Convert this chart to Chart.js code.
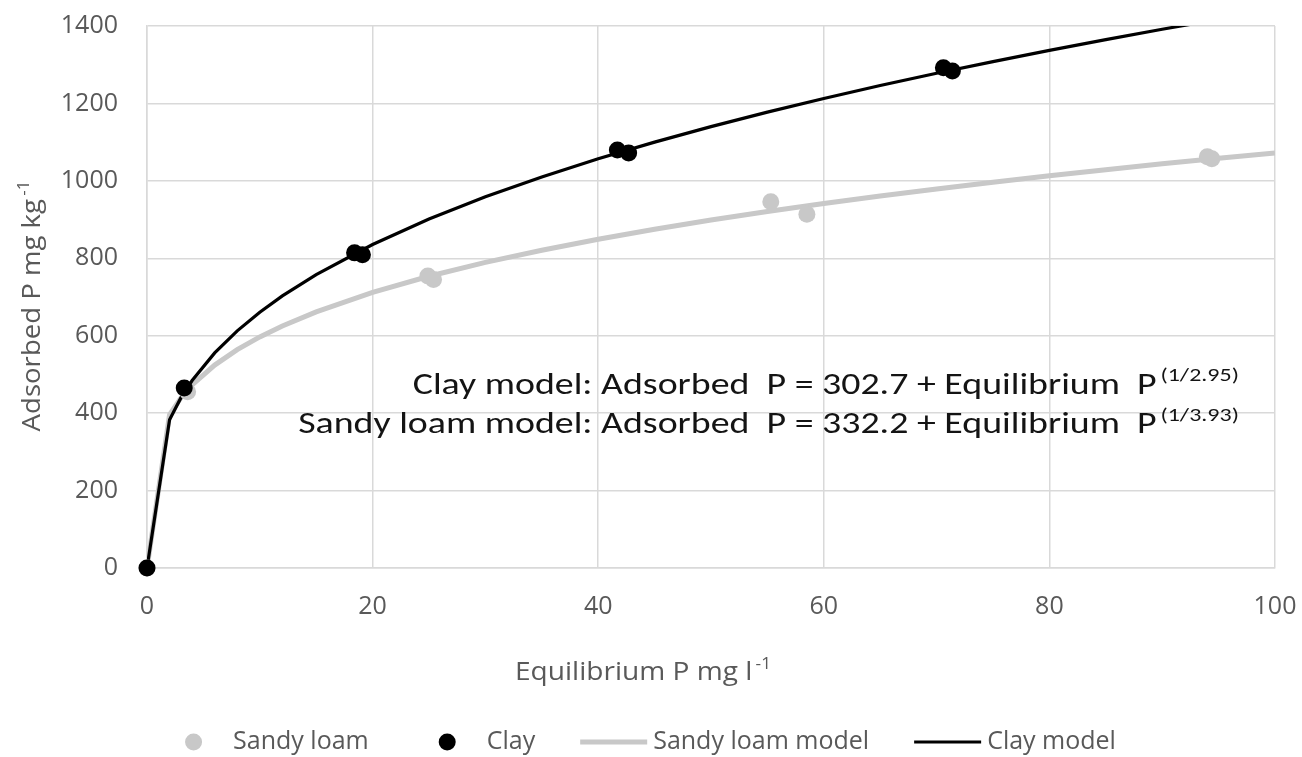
<!DOCTYPE html>
<html><head><meta charset="utf-8">
<script src="https://cdn.jsdelivr.net/npm/chart.js@4.4.1/dist/chart.umd.min.js"></script>
<style>html,body{margin:0;padding:0;background:#fff}#wrap{width:1302px;height:757px}</style>
</head><body><div id="wrap"><canvas id="c" width="1302" height="757"></canvas></div>
<script>
// ---- data ----
const xTickValues = [0, 20, 40, 60, 80, 100];
const yTickValues = [0, 200, 400, 600, 800, 1000, 1200, 1400];

const sandyX = [0, 3.6, 24.9, 25.4, 55.3, 58.5, 94.0, 94.4];
const sandyY = [0, 455, 754, 745, 946, 914, 1062, 1057];

const clayX = [0, 3.3, 18.4, 19.1, 41.7, 42.7, 70.6, 71.4];
const clayY = [0, 465, 814, 809, 1080, 1072, 1292, 1284];

const modelX = [0, 2, 3, 4, 6, 8, 10, 12, 15, 20, 25, 30, 35, 40, 45, 50, 55, 60, 65, 70, 75, 80, 85, 90, 95, 100];
const clayModelY = [0, 382.9, 439.3, 484.3, 555.6, 612.6, 660.6, 702.8, 758.0, 835.7, 901.4, 958.8, 1010.2, 1057.0, 1100.0, 1140.1, 1177.5, 1212.7, 1246.2, 1277.8, 1308.1, 1337.0, 1364.8, 1391.5, 1417.2, 1442.1];
const sandyModelY = [0, 396.3, 439.3, 472.7, 524.1, 563.9, 596.9, 625.2, 661.7, 712.0, 753.6, 789.3, 820.9, 849.3, 875.1, 898.9, 920.9, 941.6, 961.0, 979.2, 996.6, 1013.1, 1028.9, 1043.9, 1058.4, 1072.3];

const seriesNames = ['Sandy loam', 'Clay', 'Sandy loam model', 'Clay model'];
const xTitle = ['Equilibrium P mg l', '-1'];
const yTitle = ['Adsorbed P mg kg', '-1'];
const annotations = [
  ['Clay model: Adsorbed  P = 302.7 + Equilibrium  P', '(1/2.95)'],
  ['Sandy loam model: Adsorbed  P = 332.2 + Equilibrium  P', '(1/3.93)']
];

// ---- styles ----
const FONT = '"Open Sans", "DejaVu Sans", sans-serif';
const NOTE_FONT = 'Carlito, "Liberation Sans Narrow", "Open Sans", sans-serif';
const TXT = '#595959';
const GRID = '#d9d9d9';
const GREY = '#c8c8c8';
const BLACK = '#000000';

const pts = (xs, ys) => xs.map((x, i) => ({x: x, y: ys[i]}));

function drawSupText(ctx, main, sup, x, y, size, supSize, color, align, sx, rise, family) {
  family = family || FONT;
  ctx.font = size + 'px ' + family;
  const mw = ctx.measureText(main).width;
  ctx.font = supSize + 'px ' + family;
  const sw = ctx.measureText(sup).width;
  const gap = 3;
  const total = (mw + gap + sw) * sx;
  let left = x;
  if (align === 'center') left = x - total / 2;
  else if (align === 'right') left = x - total;
  ctx.save();
  ctx.translate(left, y);
  ctx.scale(sx, 1);
  ctx.fillStyle = color;
  ctx.textBaseline = 'middle';
  ctx.textAlign = 'left';
  ctx.font = size + 'px ' + family;
  ctx.fillText(main, 0, 0);
  ctx.font = supSize + 'px ' + family;
  ctx.fillText(sup, mw + gap, -rise);
  ctx.restore();
  return total;
}

const textPlugin = {
  id: 'texts',
  afterDraw(chart) {
    const ctx = chart.ctx;
    const xs = chart.scales.x, ys = chart.scales.y;
    ctx.save();
    // x title
    drawSupText(ctx, xTitle[0], xTitle[1], 643, 673, 26, 16, TXT, 'center', 1.08, 9);
    // y title
    ctx.save();
    ctx.translate(33, 306);
    ctx.rotate(-Math.PI / 2);
    drawSupText(ctx, yTitle[0], yTitle[1], 0, 0, 26, 16, TXT, 'center', 1.06, 9);
    ctx.restore();

    // annotations
    const size = 30, supSize = 19;
    const right = xs.getPixelForValue(96.8);
    const left2 = xs.getPixelForValue(13.4);
    ctx.font = size + 'px ' + NOTE_FONT;
    const m2 = ctx.measureText(annotations[1][0]).width;
    ctx.font = supSize + 'px ' + NOTE_FONT;
    const s2 = ctx.measureText(annotations[1][1]).width;
    const sx = (right - left2) / (m2 + 3 + s2);
    drawSupText(ctx, annotations[0][0], annotations[0][1], right, ys.getPixelForValue(470), size, supSize, '#141414', 'right', sx, 10, NOTE_FONT);
    drawSupText(ctx, annotations[1][0], annotations[1][1], right, ys.getPixelForValue(367), size, supSize, '#141414', 'right', sx, 10, NOTE_FONT);

    // legend
    const items = [
      {t: seriesNames[0], kind: 'circle', c: GREY},
      {t: seriesNames[1], kind: 'circle', c: BLACK},
      {t: seriesNames[2], kind: 'line', c: GREY, w: 5},
      {t: seriesNames[3], kind: 'line', c: BLACK, w: 3}
    ];
    const lsize = 25, marker = 67, mgap = 6, igap = 45;
    ctx.font = lsize + 'px ' + FONT;
    let total = 0;
    items.forEach((it, i) => { it.tw = ctx.measureText(it.t).width; total += marker + mgap + it.tw + (i ? igap : 0); });
    let lx = 638 - total / 2;
    const ly = 742;
    items.forEach(it => {
      if (it.kind === 'circle') {
        ctx.beginPath();
        ctx.arc(lx + marker / 2, ly, 8.5, 0, Math.PI * 2);
        ctx.fillStyle = it.c;
        ctx.fill();
      } else {
        ctx.beginPath();
        ctx.moveTo(lx, ly);
        ctx.lineTo(lx + marker, ly);
        ctx.strokeStyle = it.c;
        ctx.lineWidth = it.w;
        ctx.stroke();
      }
      ctx.fillStyle = TXT;
      ctx.textBaseline = 'middle';
      ctx.textAlign = 'left';
      ctx.font = lsize + 'px ' + FONT;
      ctx.fillText(it.t, lx + marker + mgap, ly);
      lx += marker + mgap + it.tw + igap;
    });
    ctx.restore();
  }
};

new Chart(document.getElementById('c'), {
  type: 'scatter',
  data: {
    datasets: [
      {label: seriesNames[0], data: pts(sandyX, sandyY), backgroundColor: GREY, borderColor: GREY, pointRadius: 8.5, pointBorderWidth: 0, showLine: false, clip: false, order: 1},
      {label: seriesNames[1], data: pts(clayX, clayY), backgroundColor: BLACK, borderColor: BLACK, pointRadius: 8.5, pointBorderWidth: 0, showLine: false, clip: false, order: 0},
      {label: seriesNames[2], data: pts(modelX, sandyModelY), borderColor: GREY, backgroundColor: GREY, borderWidth: 5, pointRadius: 0, showLine: true, tension: 0, order: 3},
      {label: seriesNames[3], data: pts(modelX, clayModelY), borderColor: BLACK, backgroundColor: BLACK, borderWidth: 3.2, pointRadius: 0, showLine: true, tension: 0, order: 2}
    ]
  },
  options: {
    responsive: false,
    animation: false,
    events: [],
    layout: {padding: {left: 0, right: 27, top: 26, bottom: 129}},
    plugins: {legend: {display: false}, tooltip: {enabled: false}},
    scales: {
      x: {
        type: 'linear', min: 0, max: 100,
        afterBuildTicks: s => { s.ticks = xTickValues.map(v => ({value: v})); },
        afterFit: s => { s.height = 60; s.paddingLeft = 0; s.paddingRight = 0; },
        grid: {color: GRID, lineWidth: 1.5, drawTicks: false},
        border: {color: GRID, width: 1.5},
        ticks: {font: {family: FONT, size: 25}, color: TXT, padding: 24, maxRotation: 0, callback: v => String(v)}
      },
      y: {
        type: 'linear', min: 0, max: 1400,
        afterBuildTicks: s => { s.ticks = yTickValues.map(v => ({value: v})); },
        afterFit: s => { s.width = 147; s.paddingTop = 0; s.paddingBottom = 0; },
        grid: {color: GRID, lineWidth: 1.5, drawTicks: false},
        border: {color: GRID, width: 1.5},
        ticks: {font: {family: FONT, size: 25}, color: TXT, padding: 29, callback: v => String(v)}
      }
    }
  },
  plugins: [textPlugin]
});
</script>
</body></html>
